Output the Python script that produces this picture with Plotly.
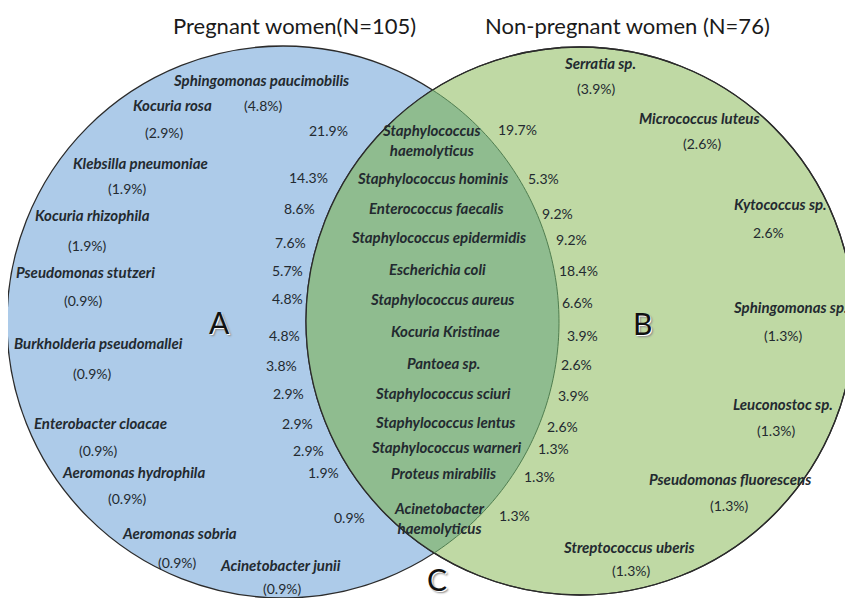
import numpy as np
import plotly.graph_objects as go

# ---------------- data ----------------
group_titles = ["Pregnant women(N=105)", "Non-pregnant women (N=76)"]
region_letters = ["A", "B", "C"]

left_only_names = ["Sphingomonas paucimobilis", "Kocuria rosa", "Klebsilla pneumoniae",
                   "Kocuria rhizophila", "Pseudomonas stutzeri", "Burkholderia pseudomallei",
                   "Enterobacter cloacae", "Aeromonas hydrophila", "Aeromonas sobria",
                   "Acinetobacter junii"]
left_only_pct = [4.8, 2.9, 1.9, 1.9, 0.9, 0.9, 0.9, 0.9, 0.9, 0.9]

shared_names = ["Staphylococcus<br>haemolyticus", "Staphylococcus hominis", "Enterococcus faecalis",
                "Staphylococcus epidermidis", "Escherichia coli", "Staphylococcus aureus",
                "Kocuria Kristinae", "Pantoea sp.", "Staphylococcus sciuri",
                "Staphylococcus lentus", "Staphylococcus warneri", "Proteus mirabilis",
                "Acinetobacter<br>haemolyticus"]
shared_pct_pregnant = [21.9, 14.3, 8.6, 7.6, 5.7, 4.8, 4.8, 3.8, 2.9, 2.9, 2.9, 1.9, 0.9]
shared_pct_nonpregnant = [19.7, 5.3, 9.2, 9.2, 18.4, 6.6, 3.9, 2.6, 3.9, 2.6, 1.3, 1.3, 1.3]

right_only_names = ["Serratia sp.", "Micrococcus luteus", "Kytococcus sp.", "Sphingomonas sp.",
                    "Leuconostoc sp.", "Pseudomonas fluorescens", "Streptococcus uberis"]
right_only_pct = [3.9, 2.6, 2.6, 1.3, 1.3, 1.3, 1.3]

# ---------------- layout (page-pixel positions of the drawing) ----------------
W, H = 853, 598
PAGE_MARGIN = 8  # default body margin of the html page
c_left, r_left = (283.0, 322.0), 276.0
c_right, r_right = (580.0, 321.0), 274.0

COL_BLUE = "#ADCBE9"
COL_GREEN = "#BFD9A4"
COL_LENS = "#8FBC8F"
COL_LINE = "#2b2b2b"
TXT = "#232a30"

left_name_pos = [(261, 80), (172, 105), (140, 163), (92, 215), (85, 272), (98, 343),
                 (100, 423), (133, 472), (179, 533), (280, 565)]
left_pct_pos = [(263, 105), (164, 132), (127, 188), (87, 245), (83, 300), (92, 373),
                (98, 450), (127, 498), (177, 562), (282, 588)]

shared_name_pos = [(431, 140), (432, 178), (436, 208), (438, 237), (437, 269), (442, 299),
                   (445, 331), (443, 363), (443, 393), (445, 422), (446, 447), (443, 473),
                   (439, 518)]
shared_l_pos = [(328, 130), (308, 177), (299, 208), (290, 242), (287, 270), (287, 298),
                (284, 335), (281, 365), (288, 393), (297, 423), (308, 450), (323, 472),
                (349, 517)]
shared_r_pos = [(517, 129), (543, 178), (557, 213), (571, 239), (578, 270), (577, 302),
                (582, 335), (576, 364), (573, 395), (562, 426), (553, 448), (539, 476),
                (514, 515)]

right_name_pos = [(600, 63), (699, 118), (780, 204), (790, 307), (783, 404), (730, 479), (629, 547)]
right_pct_pos = [(596, 88), (702, 143), (768, 232), (783, 335), (776, 430), (729, 505), (631, 570)]
right_pct_paren = [True, True, False, True, True, True, True]

title_pos = [(294, 25), (627, 25)]
letter_pos = [(219, 322), (642, 323), (437, 579)]


def circle_intersections(c1, r1, c2, r2):
    (x1, y1), (x2, y2) = c1, c2
    d = np.hypot(x2 - x1, y2 - y1)
    a = (r1 ** 2 - r2 ** 2 + d ** 2) / (2 * d)
    h = np.sqrt(r1 ** 2 - a ** 2)
    xm, ym = x1 + a * (x2 - x1) / d, y1 + a * (y2 - y1) / d
    top = (xm + h * (y2 - y1) / d, ym - h * (x2 - x1) / d)
    bot = (xm - h * (y2 - y1) / d, ym + h * (x2 - x1) / d)
    if top[1] > bot[1]:
        top, bot = bot, top
    return top, bot


def ang(c, p):
    return np.arctan2(p[1] - c[1], p[0] - c[0])


top, bot = circle_intersections(c_left, r_left, c_right, r_right)
t1 = np.linspace(ang(c_left, top), ang(c_left, bot), 120)
arc1 = [(c_left[0] + r_left * np.cos(t), c_left[1] + r_left * np.sin(t)) for t in t1]
t2 = np.linspace(ang(c_right, bot), ang(c_right, top) + 2 * np.pi, 120)
arc2 = [(c_right[0] + r_right * np.cos(t), c_right[1] + r_right * np.sin(t)) for t in t2]


def to_path(pts, close=False):
    s = "M " + " L ".join(f"{x:.2f},{y:.2f}" for x, y in pts)
    return s + (" Z" if close else "")


def circ(c, r, **kw):
    return dict(type="circle", xref="x", yref="y", x0=c[0] - r, x1=c[0] + r,
                y0=c[1] - r, y1=c[1] + r, layer="below", **kw)


shapes = [
    circ(c_left, r_left, fillcolor=COL_BLUE, line=dict(color=COL_LINE, width=1.3)),
    circ(c_right, r_right, fillcolor=COL_GREEN, line=dict(color=COL_LINE, width=1.3)),
    dict(type="path", xref="x", yref="y", path=to_path(arc1 + arc2, True),
         fillcolor=COL_LENS, line=dict(width=0), layer="below"),
    circ(c_right, r_right, fillcolor="rgba(0,0,0,0)", line=dict(color=COL_LINE, width=1.3)),
    dict(type="path", xref="x", yref="y", path=to_path(arc1), line=dict(color="#4f7d4f", width=1),
         layer="below"),
]

fig = go.Figure()
fig.add_trace(go.Scatter(x=[0, W], y=[0, H], mode="markers", marker=dict(opacity=0),
                         hoverinfo="skip", showlegend=False))

name_font = dict(family="Lato", size=15, color=TXT, weight="bold", style="italic")
pct_font = dict(family="Lato", size=14, color=TXT)


def ann(text, pos, font, **kw):
    fig.add_annotation(x=pos[0], y=pos[1], text=text, showarrow=False, font=font,
                       xanchor="center", yanchor="middle", **kw)


for name, p in zip(left_only_names, left_name_pos):
    ann(name, p, name_font)
for v, p in zip(left_only_pct, left_pct_pos):
    ann(f"({v:.1f}%)", p, pct_font)

for name, p in zip(shared_names, shared_name_pos):
    ann(name, p, name_font)
for v, p in zip(shared_pct_pregnant, shared_l_pos):
    ann(f"{v:.1f}%", p, pct_font)
for v, p in zip(shared_pct_nonpregnant, shared_r_pos):
    ann(f"{v:.1f}%", p, pct_font)

for name, p in zip(right_only_names, right_name_pos):
    ann(name, p, name_font)
for v, p, par in zip(right_only_pct, right_pct_pos, right_pct_paren):
    ann(f"({v:.1f}%)" if par else f"{v:.1f}%", p, pct_font)

for t, p in zip(group_titles, title_pos):
    ann(t, p, dict(family="Lato", size=22, color="#1a1a1a"))

letter_font = dict(family="Lato", size=30, color="#111111",
                   shadow="1px 1px 0px #ffffff, 2px 2px 2px #8a8a8a")
for L, p in zip(region_letters, letter_pos):
    ann(L, p, letter_font)

m = PAGE_MARGIN
fig.update_layout(
    width=W - m, height=H - m, margin=dict(l=0, r=0, t=0, b=0),
    paper_bgcolor="white", plot_bgcolor="white",
    xaxis=dict(range=[m, W], visible=False, fixedrange=True),
    yaxis=dict(range=[H, m], visible=False, fixedrange=True),
    shapes=shapes, showlegend=False,
)
fig.write_html("out.html")
